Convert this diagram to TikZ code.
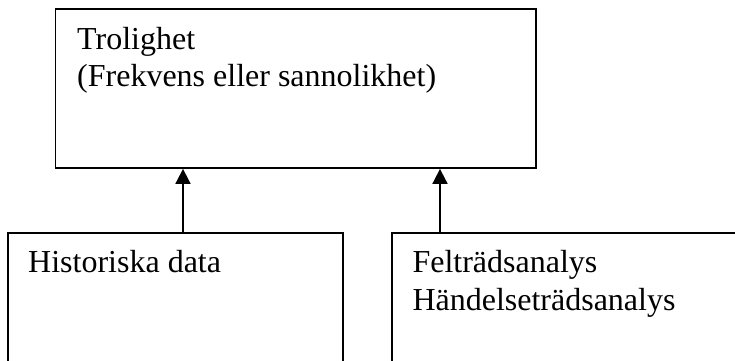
\documentclass[tikz,border=0pt]{standalone}
\usepackage{fontspec}
\setmainfont{Liberation Serif}
\usetikzlibrary{arrows.meta}
\tikzset{
  box/.style={draw=black, line width=1.8pt, rectangle, inner sep=0pt},
  txt/.style={anchor=base west, inner sep=0pt, font=\fontsize{32}{37.5}\selectfont},
  arr/.style={draw=black, line width=1.8pt, -{Triangle[length=15pt,width=15pt]}}
}
\newcommand{\lines}[1]{\begin{tabular}[t]{@{}l@{}}#1\end{tabular}}
\begin{document}
\begin{tikzpicture}[x=1pt,y=1pt]
\useasboundingbox (0,0) rectangle (735,360);
\clip (0,0) rectangle (735,360);
\node[box, minimum width=480.5pt, minimum height=159.3pt] (top) at (295.75,271.65) {};
\node[box, minimum width=335pt, minimum height=150pt] (hist) at (175.5,52) {};
\node[box, minimum width=360pt, minimum height=150pt] (felt) at (572,52) {};
\node[txt] (ttop) at (77,311) {\lines{Trolighet\\(Frekvens eller sannolikhet)}};
\node[txt] (thist) at (28,87.3) {Historiska data};
\node[txt] (tfelt) at (412.3,87.3) {\lines{Felträdsanalys\\Händelseträdsanalys}};
\coordinate (a1) at (183,0);
\coordinate (a2) at (440,0);
\draw[arr] (hist.north -| a1) -- (top.south -| a1);
\draw[arr] (felt.north -| a2) -- (top.south -| a2);
\end{tikzpicture}
\end{document}
